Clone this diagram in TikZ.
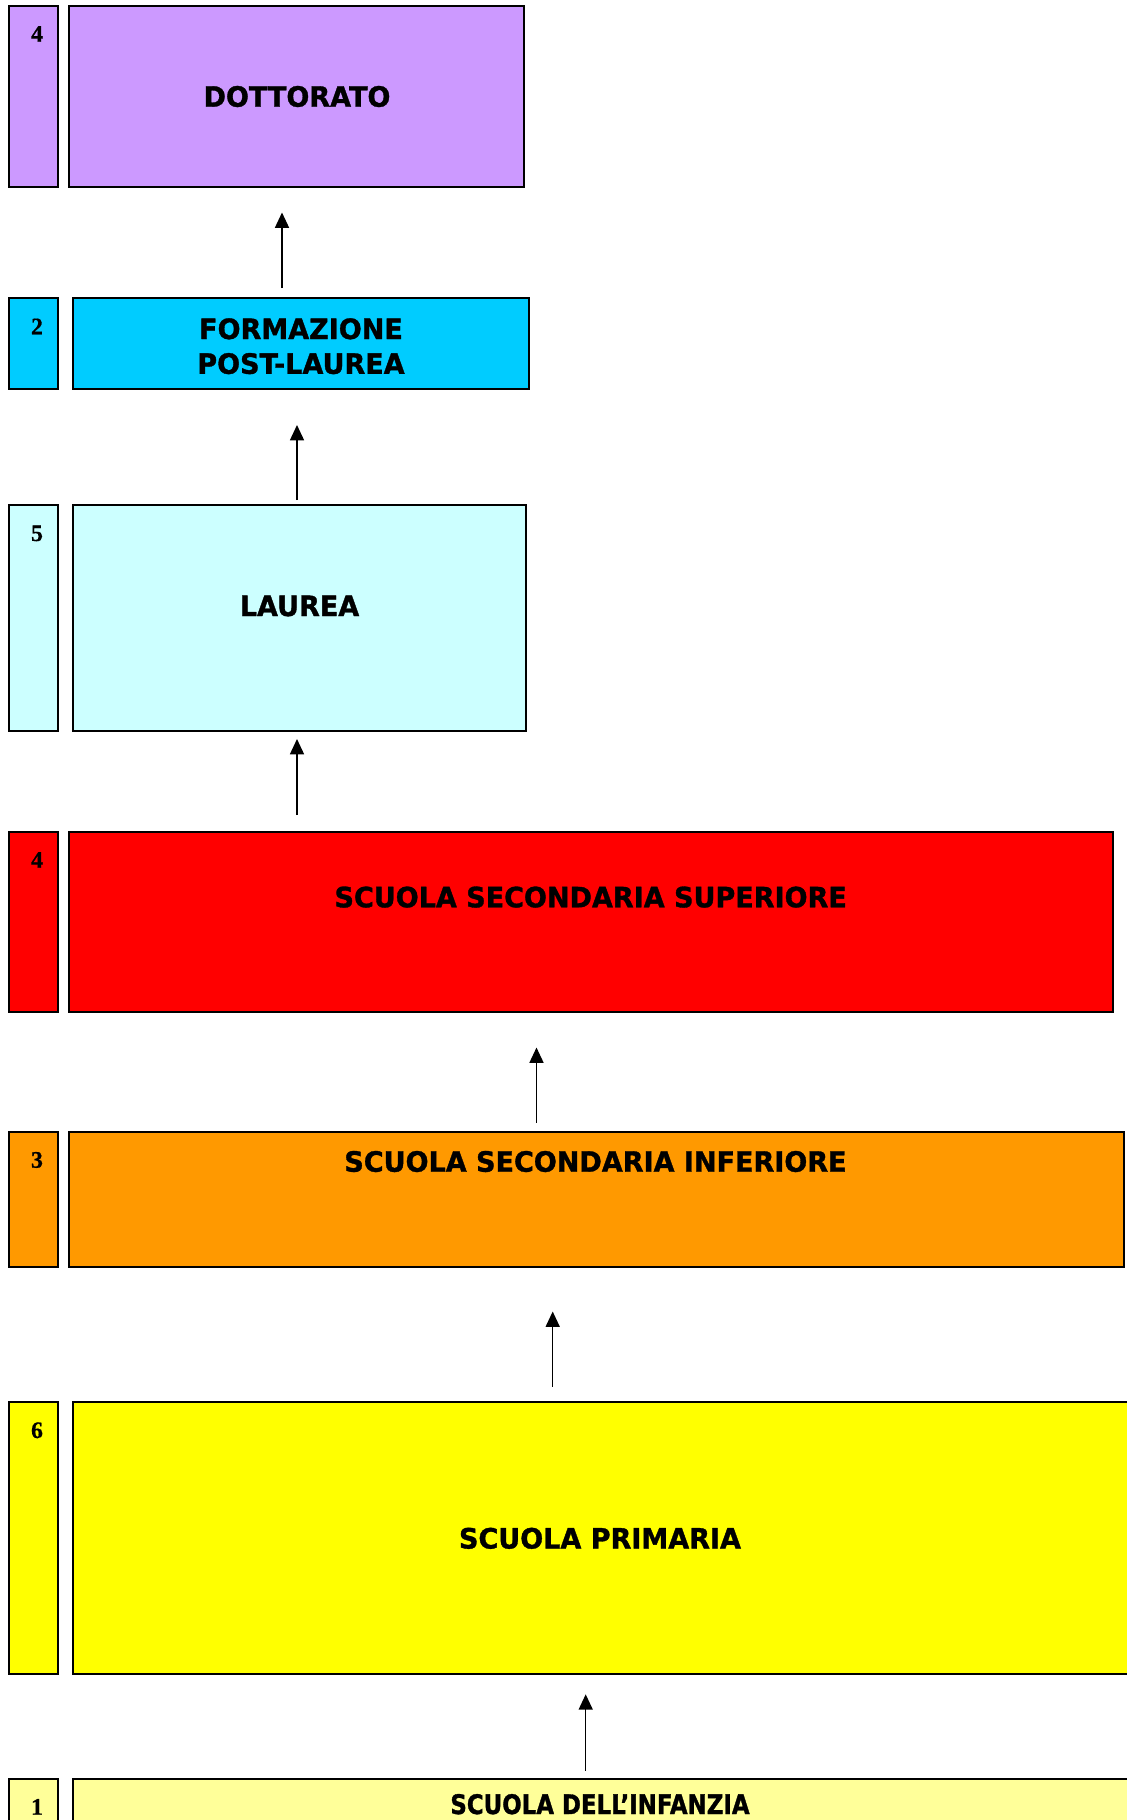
\documentclass[tikz,border=0pt]{standalone}
\usepackage{fontspec}
\newfontfamily\labfont[FakeStretch=0.965,FakeBold=1.2]{DejaVu Sans}
\newfontfamily\labfontn[FakeStretch=0.85,FakeBold=1.2]{DejaVu Sans}
\newfontfamily\numfont[FakeBold=0.6]{Liberation Serif}
\usetikzlibrary{arrows.meta,fit}
\definecolor{cDott}{HTML}{CC99FF}
\definecolor{cForm}{HTML}{00CCFF}
\definecolor{cLaur}{HTML}{CCFFFF}
\definecolor{cSup}{HTML}{FF0000}
\definecolor{cInf}{HTML}{FF9900}
\definecolor{cPrim}{HTML}{FFFF00}
\definecolor{cInfz}{HTML}{FFFF99}
\tikzset{
  box/.style={draw=black, line width=1.25pt, inner sep=0pt, rectangle},
  lab/.style={font=\labfont\bfseries\fontsize{21}{25.9}\selectfont, anchor=base, inner sep=0pt},
  labn/.style={font=\labfontn\bfseries\fontsize{20.2}{24}\selectfont, anchor=base, inner sep=0pt},
  num/.style={font=\numfont\bfseries\fontsize{17.8}{20}\selectfont, anchor=base, inner sep=0pt},
  arr/.style={line width=1.15pt, -{Triangle[length=11.5pt,width=10.5pt]}}
}
\begin{document}
\begin{tikzpicture}[x=0.75pt,y=-0.75pt]
\useasboundingbox (0,0) rectangle (1127,1820);
% DOTTORATO
\node[box, fill=cDott, fit={(9.3,5.7)(58,187)}] (s1) {};
\node[box, fill=cDott, fit={(68.7,5.7)(524.3,187)}] (b1) {};
\node[num] (d1) at (37,41.7) {4};
\node[lab] (t1) at (297,106.7) {DOTTORATO};
% FORMAZIONE
\node[box, fill=cForm, fit={(9.3,298.3)(58,389)}] (s2) {};
\node[box, fill=cForm, fit={(73.3,298.3)(529.3,389)}] (b2) {};
\node[num] (d2) at (37,334.3) {2};
\node[lab] (t2a) at (301,339) {FORMAZIONE};
\node[lab] (t2b) at (301,373.8) {POST-LAUREA};
% LAUREA
\node[box, fill=cLaur, fit={(9.3,505)(58,731)}] (s3) {};
\node[box, fill=cLaur, fit={(73.3,505)(526,731)}] (b3) {};
\node[num] (d3) at (37,541) {5};
\node[lab] (t3) at (299.5,616) {LAUREA};
% SUPERIORE
\node[box, fill=cSup, fit={(9.3,831.7)(58,1012.3)}] (s4) {};
\node[box, fill=cSup, fit={(68.7,831.7)(1112.7,1012.3)}] (b4) {};
\node[num] (d4) at (37,867.7) {4};
\node[lab] (t4) at (590.7,907.3) {SCUOLA SECONDARIA SUPERIORE};
% INFERIORE
\node[box, fill=cInf, fit={(9.3,1131.7)(58,1267.3)}] (s5) {};
\node[box, fill=cInf, fit={(68.7,1131.7)(1123.7,1267.3)}] (b5) {};
\node[num] (d5) at (37,1167.7) {3};
\node[lab] (t5) at (595.5,1171.7) {SCUOLA SECONDARIA INFERIORE};
% PRIMARIA
\node[box, fill=cPrim, fit={(9.3,1402)(58,1673.7)}] (s6) {};
\node[box, fill=cPrim, fit={(73.3,1402)(1135,1673.7)}] (b6) {};
\node[num] (d6) at (37,1438) {6};
\node[lab] (t6) at (600,1548.5) {SCUOLA PRIMARIA};
% INFANZIA
\node[box, fill=cInfz, fit={(9.3,1778.7)(58,1835)}] (s7) {};
\node[box, fill=cInfz, fit={(73.3,1778.7)(1135,1835)}] (b7) {};
\node[num] (d7) at (37,1814.7) {1};
\node[labn] (t7) at (600,1814) {SCUOLA DELL’INFANZIA};
% arrows
\coordinate (a1s) at (282,288);   \coordinate (a1e) at (282,212.5);
\coordinate (a2s) at (297,500);   \coordinate (a2e) at (297,425);
\coordinate (a3s) at (297,815);   \coordinate (a3e) at (297,739);
\coordinate (a4s) at (536.5,1122.5); \coordinate (a4e) at (536.5,1047.5);
\coordinate (a5s) at (552.7,1386.5); \coordinate (a5e) at (552.7,1311.5);
\coordinate (a6s) at (585.7,1770.7); \coordinate (a6e) at (585.7,1694.3);
\draw[arr] (a1s) -- (a1e);
\draw[arr] (a2s) -- (a2e);
\draw[arr] (a3s) -- (a3e);
\draw[arr] (a4s) -- (a4e);
\draw[arr] (a5s) -- (a5e);
\draw[arr] (a6s) -- (a6e);
\end{tikzpicture}
\end{document}
